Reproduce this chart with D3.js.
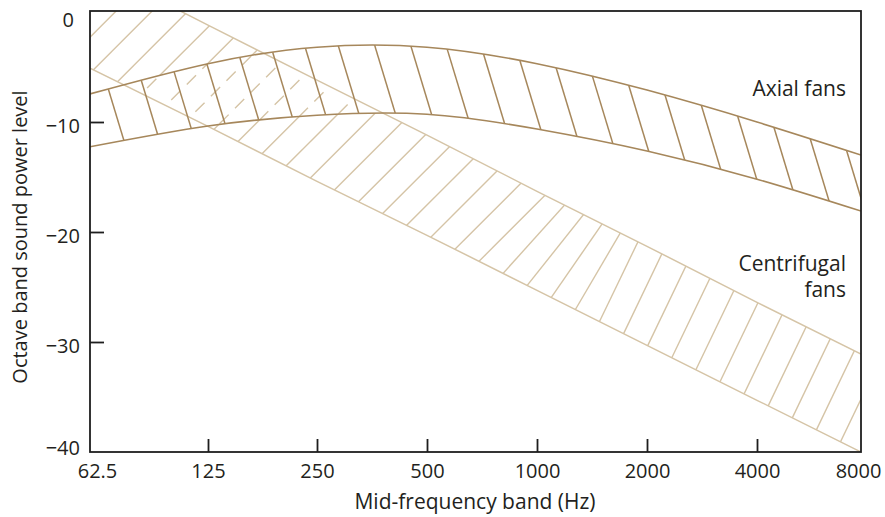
<!DOCTYPE html>
<html><head><meta charset="utf-8">
<script src="https://cdn.jsdelivr.net/npm/d3@7"></script>
<style>
body{margin:0;background:#fff}
text{font-family:"Open Sans",sans-serif;fill:#231f20}
</style>
</head><body>
<svg id="c" width="885" height="517"></svg>
<script>
// ---- data ----
const freqs = [62.5, 125, 250, 500, 1000, 2000, 4000, 8000];
const freqLabels = ["62.5", "125", "250", "500", "1000", "2000", "4000", "8000"];
const yTicks = [0, -10, -20, -30, -40];
const yTickLabels = ["0", "\u221210", "\u221220", "\u221230", "\u221240"];
const axialUpper = [-7.45, -4.7, -3.2, -3.2, -4.7, -7.1, -10.0, -13.0];
const axialLower = [-12.25, -10.36, -9.39, -9.3, -10.64, -12.64, -15.2, -18.1];
const centUpper = [4.3, -1.2, -6.2, -11.2, -16.3, -21.3, -26.4, -31.1];
const centLower = [-5.1, -10.4, -15.4, -20.3, -25.3, -30.3, -35.3, -40];

// ---- layout ----
const X0 = 90, X1 = 861, Y0 = 11, Y1 = 452;
const AX = "#a6875b", CF = "#d5c4a6";
const svg = d3.select("#c");
const lf = freqs.map(f => Math.log2(f));
const x = d3.scaleLinear().domain(lf).range([90, 208, 317, 427, 537, 647, 757, 861]);
const y = d3.scaleLinear().domain([0, -40]).range([12, 452]);
const px = (d, i) => x(lf[i]);

const defs = svg.append("defs");
defs.append("clipPath").attr("id", "plot").append("rect")
  .attr("x", X0).attr("y", Y0).attr("width", X1 - X0).attr("height", Y1 - Y0);

const axialArea = d3.area().x(px).y0((d, i) => y(axialLower[i])).y1((d, i) => y(axialUpper[i])).curve(d3.curveNatural);
const centArea = d3.area().x(px).y0((d, i) => y(centLower[i])).y1((d, i) => y(centUpper[i]));
defs.append("clipPath").attr("id", "axClip").append("path").attr("d", axialArea(freqs));
defs.append("clipPath").attr("id", "cfClip").append("path").attr("d", centArea(freqs));

const lineOf = (vals, curve) => d3.line().x(px).y((d, i) => y(vals[i])).curve(curve)(freqs);

const g = svg.append("g").attr("clip-path", "url(#plot)");

// centrifugal hatch geometry (pattern)
const cfLowerPix = d3.scaleLinear().domain(freqs.map((f, i) => x(lf[i]))).range(centLower.map(v => y(v)));
const cfHatch = [];
for (let k = -1; ; k++) {
  const xl = 93.4 + 24.1 * k;
  if (xl > 865) break;
  const yl = cfLowerPix(xl);
  const t = Math.max(0, Math.min(1, (xl - 480) / 120));
  const d = 1 - 0.52 * t;
  cfHatch.push([xl - d * 10, yl + 10, xl + d * 170, yl - 170]);
}
const drawHatch = (sel, data, color, w, dash) => sel.selectAll("line").data(data).join("line")
  .attr("x1", d => d[0]).attr("y1", d => d[1]).attr("x2", d => d[2]).attr("y2", d => d[3])
  .attr("stroke", color).attr("stroke-width", w).attr("stroke-dasharray", dash || null);

// a. solid centrifugal hatch
drawHatch(g.append("g").attr("clip-path", "url(#cfClip)"), cfHatch, CF, 1.4);
// b. white axial band
g.append("path").attr("d", axialArea(freqs)).attr("fill", "#fff");
// c. dashed centrifugal hatch inside axial band
drawHatch(g.append("g").attr("clip-path", "url(#cfClip)").append("g").attr("clip-path", "url(#axClip)"), cfHatch, CF, 1.4, "13 9");
// d. centrifugal boundaries
g.append("path").attr("d", lineOf(centUpper, d3.curveLinear)).attr("fill", "none").attr("stroke", CF).attr("stroke-width", 1.5);
g.append("path").attr("d", lineOf(centLower, d3.curveLinear)).attr("fill", "none").attr("stroke", CF).attr("stroke-width", 1.5);
// e. axial hatch group (filled after sampling)
const axG = g.append("g").attr("clip-path", "url(#axClip)");
// f. axial curves
const up = g.append("path").attr("d", lineOf(axialUpper, d3.curveNatural)).attr("fill", "none").attr("stroke", AX).attr("stroke-width", 1.6);
g.append("path").attr("d", lineOf(axialLower, d3.curveNatural)).attr("fill", "none").attr("stroke", AX).attr("stroke-width", 1.6);

// sampler of upper axial curve
const node = up.node(), L = node.getTotalLength(), pts = [];
for (let l = 0; l <= L; l += 0.5) { const p = node.getPointAtLength(l); pts.push([p.x, p.y]); }
const upY = xx => { const i = Math.max(1, Math.min(pts.length - 1, d3.bisector(p => p[0]).left(pts, xx))); const a = pts[i - 1], b = pts[i]; return a[1] + (b[1] - a[1]) * (xx - a[0]) / ((b[0] - a[0]) || 1); };
const axTops = [];
for (let k = 0; k <= 7; k++) axTops.push(108.3 + 32.86 * k);
for (let j = 1; j <= 14; j++) axTops.push(338.3 + 36.3 * j);
const slope = 3.3;
const axHatch = axTops.map(xt => { const yt = upY(xt); return [xt - 3 / slope, yt - 3, xt + 120 / slope, yt + 120]; });
drawHatch(axG, axHatch, AX, 1.5);

// frame
svg.append("rect").attr("x", X0).attr("y", Y0).attr("width", X1 - X0).attr("height", Y1 - Y0)
  .attr("fill", "none").attr("stroke", "#1e1e1e").attr("stroke-width", 1.8);

// axes
const xa = svg.append("g").attr("transform", `translate(0,${Y1})`)
  .call(d3.axisBottom(x).tickValues(lf).tickFormat((d, i) => freqLabels[i]).tickSizeInner(-13).tickSizeOuter(0).tickPadding(12));
xa.select(".domain").remove();
xa.selectAll(".tick line").attr("stroke", "#1e1e1e").attr("stroke-width", 1.8).attr("display", (d, i) => (i === 0 || i === lf.length - 1) ? "none" : null);
xa.selectAll(".tick text").attr("font-size", 20).attr("font-family", "Open Sans").attr("fill", "#231f20")
  .attr("dx", (d, i) => i === 0 ? 7 : (i === lf.length - 1 ? -3 : 0));

const ya = svg.append("g").attr("transform", `translate(${X0},0)`)
  .call(d3.axisLeft(y).tickValues(yTicks).tickFormat((d, i) => yTickLabels[i]).tickSizeInner(-14).tickSizeOuter(0).tickPadding(10));
ya.select(".domain").remove();
ya.selectAll(".tick line").attr("stroke", "#1e1e1e").attr("stroke-width", 1.8).attr("display", (d, i) => (i === 0 || i === yTicks.length - 1) ? "none" : null);
ya.selectAll(".tick text").attr("font-size", 20).attr("font-family", "Open Sans").attr("fill", "#231f20")
  .attr("dy", (d, i) => i === 0 ? "0.7em" : (i === yTicks.length - 1 ? "0.1em" : "0.5em"))
  .attr("dx", (d, i) => i === 0 ? -6 : 0);

svg.append("text").attr("x", 475).attr("y", 509).attr("text-anchor", "middle").attr("font-size", 21).text("Mid-frequency band (Hz)");
svg.append("text").attr("transform", "translate(26.5,237) rotate(-90)").attr("text-anchor", "middle").attr("font-size", 20).text("Octave band sound power level");
svg.append("text").attr("x", 846).attr("y", 96).attr("text-anchor", "end").attr("font-size", 21).text("Axial fans");
svg.append("text").attr("x", 846).attr("y", 270.5).attr("text-anchor", "end").attr("font-size", 21).text("Centrifugal");
svg.append("text").attr("x", 846).attr("y", 296.5).attr("text-anchor", "end").attr("font-size", 21).text("fans");
</script>
</body></html>
